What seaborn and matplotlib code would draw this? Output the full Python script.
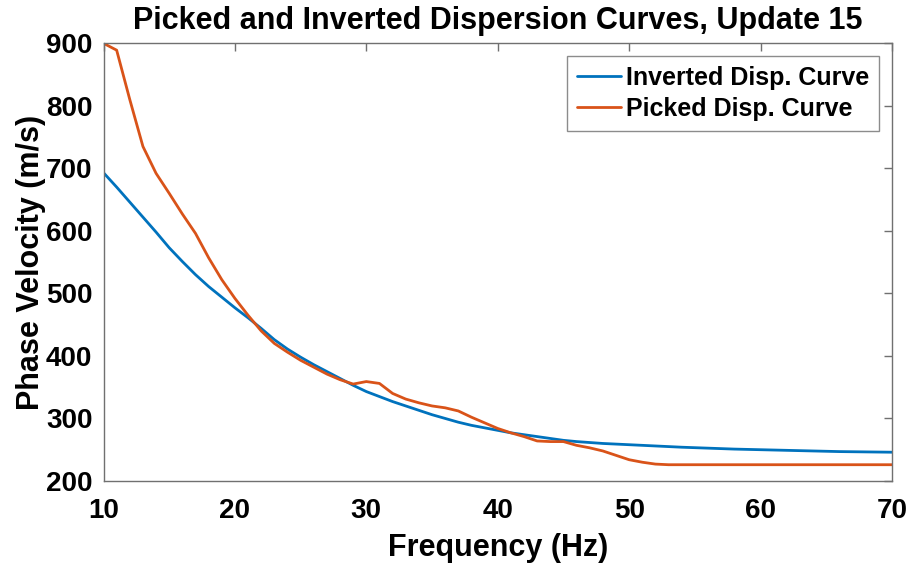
import numpy as np
import pandas as pd
import matplotlib
matplotlib.use("Agg")
import matplotlib.pyplot as plt
import seaborn as sns

# ---- data ----
picked_freq = list(range(10, 71))
picked_vel = [900, 889, 810, 735, 692, 660, 627, 596, 557, 522,
              492, 465, 440, 420, 406, 393, 382, 371, 362, 355,
              359, 356, 340, 331, 325, 320, 317, 312, 302, 293,
              284, 277, 271, 264, 263, 263, 257, 253, 248, 241,
              234, 230, 227, 226, 226, 226, 226, 226, 226, 226,
              226, 226, 226, 226, 226, 226, 226, 226, 226, 226, 226]

inv_freq = [10, 11, 12, 13, 14, 15, 16, 17, 18, 19, 20, 21, 22, 23, 24, 25,
            26, 27, 28, 29, 30, 31, 32, 33, 34, 35, 36, 37, 38, 39, 40,
            41, 42, 43, 44, 45, 46, 47, 48, 49, 50, 52, 54, 56, 58, 60,
            62, 64, 66, 68, 70]
inv_vel = [693, 670, 646, 622, 598, 573, 551, 530, 511, 494, 477, 461, 444,
           426, 411, 398, 386, 375, 364, 353, 343, 335, 327, 320, 313, 306,
           300, 294, 289, 285, 281, 277, 274, 271, 268, 265, 263, 261.5, 260,
           259, 258, 256, 254, 252.5, 251, 250, 249, 248, 247, 246.5, 246]

series_names = ["Inverted Disp. Curve", "Picked Disp. Curve"]
colors = ["#0072BD", "#D95319"]

title = "Picked and Inverted Dispersion Curves, Update 15"
xlabel = "Frequency (Hz)"
ylabel = "Phase Velocity (m/s)"
xticks = [10, 20, 30, 40, 50, 60, 70]
yticks = [200, 300, 400, 500, 600, 700, 800, 900]

df = pd.concat([
    pd.DataFrame({"f": inv_freq, "v": inv_vel, "s": series_names[0]}),
    pd.DataFrame({"f": picked_freq, "v": picked_vel, "s": series_names[1]}),
], ignore_index=True)

sns.set_style("white")
plt.rcParams["font.family"] = ["Liberation Sans", "DejaVu Sans"]
plt.rcParams["font.weight"] = "bold"
plt.rcParams["text.color"] = "black"
plt.rcParams["axes.labelcolor"] = "black"
plt.rcParams["xtick.color"] = "black"
plt.rcParams["ytick.color"] = "black"

fig = plt.figure(figsize=(9.12, 5.69), dpi=100)
ax = fig.add_axes([0.1135, 0.1547, 0.8645, 0.7692])

sns.lineplot(data=df, x="f", y="v", hue="s", palette=colors,
             hue_order=series_names, linewidth=2.0, ax=ax, sort=False,
             estimator=None)

ax.set_xlim(10, 70)
ax.set_ylim(200, 900)
ax.set_xticks(xticks)
ax.set_yticks(yticks)
axcol = "#707070"
for sp in ax.spines.values():
    sp.set_color(axcol)
    sp.set_linewidth(1.0)
    sp.set_visible(True)
ax.tick_params(direction="in", length=6, width=1.0, color=axcol,
               labelcolor="black", top=True, right=True, labelsize=20)
ax.tick_params(axis="x", pad=12)
ax.tick_params(axis="y", pad=8)
for lab in ax.get_xticklabels() + ax.get_yticklabels():
    lab.set_fontweight("bold")
ax.set_xlabel(xlabel, fontsize=22, fontweight="bold", labelpad=7)
ax.set_ylabel(ylabel, fontsize=22, fontweight="bold", labelpad=0)
ax.set_title(title, fontsize=22, fontweight="bold", pad=10)

leg = ax.legend(loc="upper right", bbox_to_anchor=(0.9835, 0.9717),
                fontsize=18, frameon=True, fancybox=False,
                handlelength=1.75, handleheight=0.7, handletextpad=0.2,
                borderpad=0.4, labelspacing=0.29, borderaxespad=0.0)
leg.get_frame().set_edgecolor(axcol)
leg.get_frame().set_linewidth(1.0)
for t in leg.get_texts():
    t.set_fontweight("bold")

fig.savefig("out.png", dpi=100)
